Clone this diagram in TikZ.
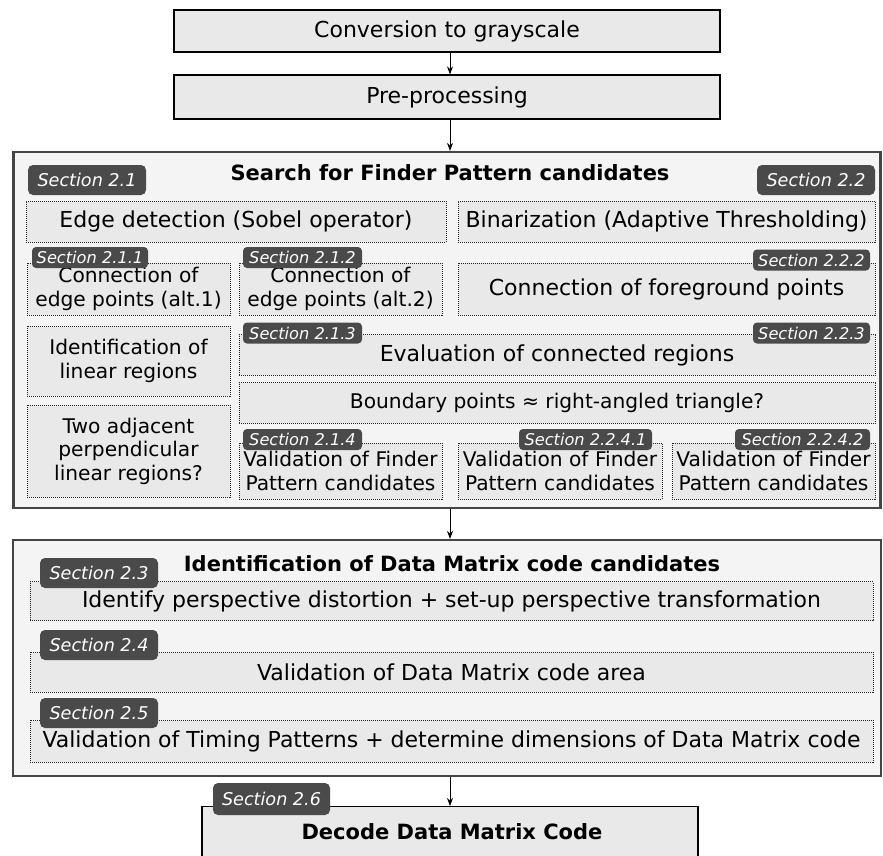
\documentclass[tikz,border=0pt]{standalone}
\usepackage{fontspec}
\setmainfont{DejaVu Sans}
\usetikzlibrary{arrows.meta}
\definecolor{tagfill}{HTML}{4A4A4A}
\definecolor{bigfill}{HTML}{F4F4F4}
\definecolor{boxfill}{HTML}{E9E9E9}
\definecolor{bigdraw}{HTML}{454545}
\begin{document}
\begin{tikzpicture}[x=1pt,y=-1pt,
  mainfont/.style={font=\fontsize{22}{24}\selectfont},
  smallfont/.style={font=\fontsize{20.2}{23.5}\selectfont},
  solidbox/.style={draw=black,line width=1.2pt,fill=boxfill,inner sep=0pt,mainfont,align=center},
  bigbox/.style={draw=bigdraw,line width=2.2pt,fill=bigfill,inner sep=0pt},
  dotbox/.style={draw=black!85,line width=1pt,dash pattern=on 1pt off 1pt,fill=boxfill,inner sep=0pt,mainfont,align=center},
  smallbox/.style={dotbox,smallfont},
  tagbig/.style={fill=tagfill,text=white,rounded corners=5pt,inner sep=0pt,minimum width=118pt,minimum height=30pt,font=\fontsize{17.6}{20}\selectfont\itshape},
  tagsmall/.style={fill=tagfill,text=white,rounded corners=4pt,inner sep=0pt,minimum height=21pt,font=\fontsize{16.2}{18}\selectfont\itshape},
  titletext/.style={font=\fontsize{21}{24}\selectfont\bfseries},
  arr/.style={-{Stealth[length=8pt,width=6pt]},line width=1pt}]
\useasboundingbox (0,0) rectangle (883,855);
\begin{scope}
\clip (0,0) rectangle (883,855);
% top boxes
\node[solidbox,minimum width=546pt,minimum height=42pt] (conv) at (447,31) {Conversion to grayscale};
\node[solidbox,minimum width=546pt,minimum height=44pt] (pre) at (447,97) {Pre-processing};
% big box 1
\node[bigbox,minimum width=867pt,minimum height=356pt] (big1) at (447,330) {};
\node[titletext] (t1) at (450,173) {Search for Finder Pattern candidates};
\node[dotbox,minimum width=420pt,minimum height=41pt] (edge) at (236,221.5) {Edge detection (Sobel operator)};
\node[dotbox,minimum width=417pt,minimum height=41pt] (bin) at (666.5,221.5) {Binarization (Adaptive Thresholding)};
\node[smallbox,minimum width=203pt,minimum height=52pt] (alt1) at (128.5,289) {Connection of\\edge points (alt.1)};
\node[smallbox,minimum width=203pt,minimum height=52pt] (alt2) at (340.5,289) {Connection of\\edge points (alt.2)};
\node[dotbox,minimum width=417pt,minimum height=52pt] (fg) at (666.5,289) {Connection of foreground points};
\node[smallbox,minimum width=203pt,minimum height=70pt] (lin) at (128.5,361) {Identification of\\linear regions};
\node[dotbox,minimum width=636pt,minimum height=41pt] (eval) at (557,355) {Evaluation of connected regions};
\node[dotbox,minimum width=636pt,minimum height=41pt,font=\fontsize{20.2}{24}\selectfont] (bound) at (557,403) {Boundary points ≈ right-angled triangle?};
\node[smallbox,minimum width=203pt,minimum height=92pt] (two) at (128.5,451) {Two adjacent\\perpendicular\\linear regions?};
\node[smallbox,minimum width=203pt,minimum height=56pt] (v214) at (340.5,471) {Validation of Finder\\Pattern candidates};
\node[smallbox,minimum width=204pt,minimum height=56pt] (v2241) at (560,471) {Validation of Finder\\Pattern candidates};
\node[smallbox,minimum width=203pt,minimum height=56pt] (v2242) at (773.5,471) {Validation of Finder\\Pattern candidates};
% tags
\node[tagbig] (s21) at (87,180) {Section 2.1};
\node[tagbig] (s22) at (816,180) {Section 2.2};
\node[tagsmall,minimum width=116pt] (s211) at (90,257.5) {Section 2.1.1};
\node[tagsmall,minimum width=119pt] (s212) at (302.5,257.5) {Section 2.1.2};
\node[tagsmall,minimum width=117pt] (s222) at (811.5,260) {Section 2.2.2};
\node[tagsmall,minimum width=119pt] (s213) at (302.5,333) {Section 2.1.3};
\node[tagsmall,minimum width=117pt] (s223) at (811.5,333) {Section 2.2.3};
\node[tagsmall,minimum width=119pt] (s214) at (302.5,439.5) {Section 2.1.4};
\node[tagsmall,minimum width=133pt] (s2241) at (585.5,439.5) {Section 2.2.4.1};
\node[tagsmall,minimum width=135pt] (s2242) at (802.5,439.5) {Section 2.2.4.2};
% big box 2
\node[bigbox,minimum width=868pt,minimum height=236pt] (big2) at (447,658) {};
\node[titletext] (t2) at (452,564) {Identification of Data Matrix code candidates};
\node[dotbox,minimum width=843pt,minimum height=39pt] (ident) at (451.5,601) {Identify perspective distortion + set-up perspective transformation};
\node[dotbox,minimum width=843pt,minimum height=40pt] (area) at (451.5,672) {Validation of Data Matrix code area};
\node[dotbox,minimum width=843pt,minimum height=42pt] (timing) at (451.5,741) {Validation of Timing Patterns + determine dimensions of Data Matrix code};
\node[tagbig] (s23) at (99,573) {Section 2.3};
\node[tagbig] (s24) at (99,645) {Section 2.4};
\node[tagbig] (s25) at (99,713) {Section 2.5};
% decode
\node[solidbox,minimum width=496pt,minimum height=70pt,anchor=north] (dec) at (450,806) {};
\node[titletext] (dect) at (452,832) {Decode Data Matrix Code};
\node[tagbig,minimum width=117pt,minimum height=32pt] (s26) at (271.5,799) {Section 2.6};
\end{scope}
% arrows
\draw[arr] ([xshift=3pt]conv.south) -- ([xshift=3pt]pre.north);
\draw[arr] ([xshift=3pt]pre.south) -- ([xshift=3pt]big1.north);
\draw[arr] ([xshift=3pt]big1.south) -- ([xshift=3pt]big2.north);
\draw[arr] ([xshift=3pt]big2.south) -- (dec.north);
\end{tikzpicture}
\end{document}
